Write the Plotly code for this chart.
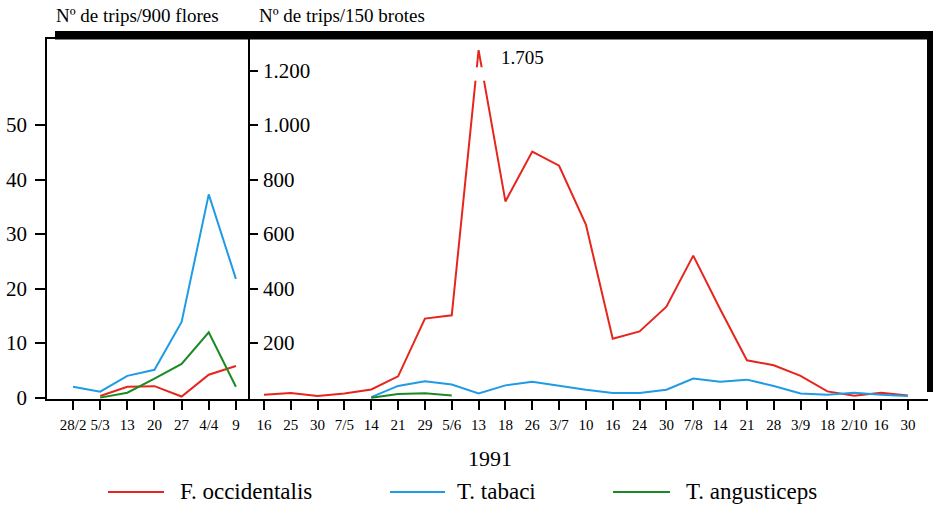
import plotly.graph_objects as go

# ---------------- data ----------------
left_labels = ["28/2", "5/3", "13", "20", "27", "4/4", "9"]
right_labels = ["16", "25", "30", "7/5", "14", "21", "29", "5/6", "13", "18", "26", "3/7",
                "10", "16", "24", "30", "7/8", "14", "21", "28", "3/9", "18", "2/10", "16", "30"]

series_names = ["F. occidentalis", "T. tabaci", "T. angusticeps"]

# Nº de trips / 900 flores
left_occidentalis = [None, 0.3, 2.0, 2.1, 0.2, 4.2, 5.8]
left_tabaci = [2.0, 1.1, 4.0, 5.1, 13.9, 37.3, 21.8]
left_angusticeps = [None, 0.0, 0.9, 3.5, 6.2, 12.0, 2.0]

# Nº de trips / 150 brotes
right_occidentalis = [11, 17, 6, 15, 30, 78, 290, 302, 1705, 720, 903, 851, 635,
                      216, 243, 334, 521, 325, 137, 119, 80, 23, 7, 18, 8]
right_tabaci = [None, None, None, None, 2, 43, 60, 48, 15, 45, 58, 43, 29,
                17, 17, 29, 70, 58, 66, 43, 15, 11, 18, 11, 6]
right_angusticeps = [None, None, None, None, 0, 13, 16, 8] + [None] * 17

left_yticks = [0, 10, 20, 30, 40, 50]
right_yticks = [200, 400, 600, 800, 1000, 1200]
right_yticklabels = ["200", "400", "600", "800", "1.000", "1.200"]

left_title = "Nº de trips/900 flores"
right_title = "Nº de trips/150 brotes"
year_label = "1991"

# ---------------- style ----------------
colors = ["#e6261c", "#1f9be6", "#1b8a24"]
FONT = "Liberation Serif"
W, H = 934, 508
ML, MR, MT, MB = 47, 6, 39, 109
PW, PH = W - ML - MR, H - MT - MB

BREAK_TOP = 1275          # drawn height of the truncated (broken-axis) peak
BREAK_GAP = (1163, 1212)  # gap of the axis break on the peak


def px(xp):
    return (xp - ML) / PW


def py(yp):
    return (H - MB - yp) / PH


split = px(250)

right_occ_drawn = [min(v, BREAK_TOP) for v in right_occidentalis]
peak_idx = right_occidentalis.index(max(right_occidentalis))

fig = go.Figure()
xl = list(range(len(left_labels)))
xr = list(range(len(right_labels)))

for ys, c in zip([left_occidentalis, left_tabaci, left_angusticeps], colors):
    fig.add_trace(go.Scatter(x=xl, y=ys, mode="lines", line=dict(color=c, width=2),
                             showlegend=False, xaxis="x", yaxis="y", hoverinfo="skip"))
for ys, c in zip([right_occ_drawn, right_tabaci, right_angusticeps], colors):
    fig.add_trace(go.Scatter(x=xr, y=ys, mode="lines", line=dict(color=c, width=2),
                             showlegend=False, xaxis="x2", yaxis="y2", hoverinfo="skip"))

axis_common = dict(showgrid=False, zeroline=False, showline=True, linecolor="black",
                   linewidth=1.5, tickcolor="black", tickwidth=1.5)

fig.update_layout(
    width=W, height=H, autosize=False,
    margin=dict(l=ML, r=MR, t=MT, b=MB),
    paper_bgcolor="white", plot_bgcolor="white",
    font=dict(family=FONT, color="black"),
    xaxis=dict(domain=[0, split], range=[-0.96, 6.52], tickvals=xl, ticktext=left_labels,
               ticks="outside", ticklen=9, mirror=True, tickfont=dict(size=15, family=FONT),
               ticklabelstandoff=2, **axis_common),
    yaxis=dict(domain=[0, 1], range=[-0.25, 65.8], tickvals=left_yticks,
               ticks="outside", ticklen=10, tickfont=dict(size=21, family=FONT),
               ticklabelstandoff=4, **axis_common),
    xaxis2=dict(domain=[split, 1], anchor="y2", range=[-0.52, 24.75], tickvals=xr,
                ticktext=right_labels, ticks="outside", ticklen=9,
                tickfont=dict(size=15, family=FONT), ticklabelstandoff=2, **axis_common),
    yaxis2=dict(domain=[0, 1], anchor="x2", range=[-5, 1316], tickvals=right_yticks,
                ticks="inside", ticklen=8, showticklabels=False, **axis_common),
)

shapes = []
# axis break on the peak
shapes.append(dict(type="rect", xref="x2", yref="y2", x0=peak_idx - 0.45, x1=peak_idx + 0.45,
                   y0=BREAK_GAP[0], y1=BREAK_GAP[1], fillcolor="white", line=dict(width=0),
                   layer="above"))
# heavy frame (top bar and right edge)
shapes.append(dict(type="rect", xref="paper", yref="paper", x0=px(55), x1=px(933),
                   y0=py(39.5), y1=py(31), fillcolor="black", line=dict(width=0),
                   layer="above"))
shapes.append(dict(type="rect", xref="paper", yref="paper", x0=px(927), x1=px(933),
                   y0=py(392), y1=py(33), fillcolor="black", line=dict(width=0),
                   layer="above"))

annotations = []
# right-panel y tick labels (inside the panel)
for v, t in zip(right_yticks, right_yticklabels):
    annotations.append(dict(text=t, xref="paper", yref="y2", x=px(261), y=v,
                            xanchor="left", yanchor="middle", showarrow=False,
                            font=dict(size=21, family=FONT)))
annotations.append(dict(text=left_title, xref="paper", yref="paper", x=px(54), y=py(15),
                        xanchor="left", yanchor="middle", showarrow=False,
                        font=dict(size=19, family=FONT)))
annotations.append(dict(text=right_title, xref="paper", yref="paper", x=px(257), y=py(15),
                        xanchor="left", yanchor="middle", showarrow=False,
                        font=dict(size=19, family=FONT)))
peak_text = "{:,}".format(max(right_occidentalis)).replace(",", ".")
annotations.append(dict(text=peak_text, xref="paper", yref="paper", x=px(499), y=py(57),
                        xanchor="left", yanchor="middle", showarrow=False,
                        font=dict(size=19, family=FONT)))
annotations.append(dict(text=year_label, xref="paper", yref="paper", x=px(490), y=py(458),
                        xanchor="center", yanchor="middle", showarrow=False,
                        font=dict(size=22, family=FONT)))

# legend drawn manually
leg_lines = [(108, 164), (390, 445), (613, 670)]
leg_text_x = [178, 455, 684]
leg_y = 492
for name, c, (a, b), tx in zip(series_names, colors, leg_lines, leg_text_x):
    shapes.append(dict(type="line", xref="paper", yref="paper", x0=px(a), x1=px(b),
                       y0=py(leg_y), y1=py(leg_y), line=dict(color=c, width=2)))
    annotations.append(dict(text=name, xref="paper", yref="paper", x=px(tx), y=py(491),
                            xanchor="left", yanchor="middle", showarrow=False,
                            font=dict(size=23, family=FONT)))

fig.update_layout(shapes=shapes, annotations=annotations)
fig.write_html("out.html", config={"displayModeBar": False},
               post_script="document.body.style.margin='0';")
